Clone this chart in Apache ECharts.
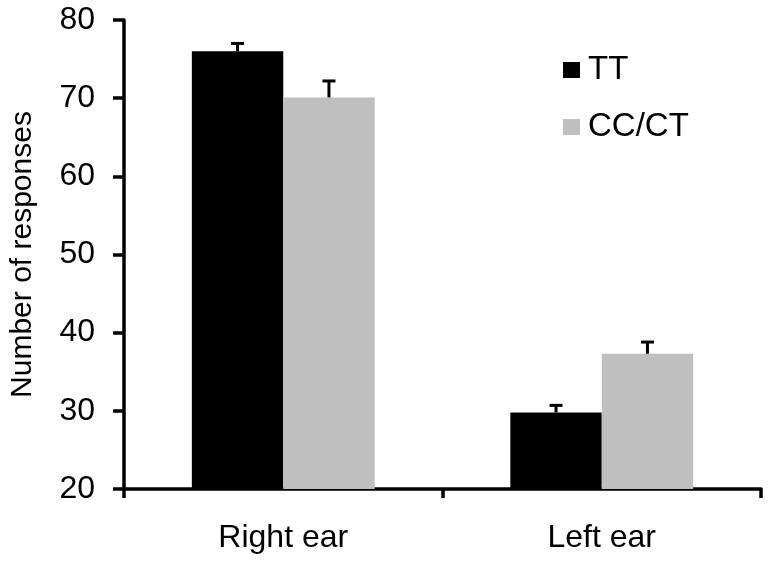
<!DOCTYPE html>
<html><head><meta charset="utf-8">
<script src="https://cdn.jsdelivr.net/npm/echarts@6/dist/echarts.min.js"></script>
<style>html,body{margin:0;padding:0;background:#fff}#c{width:772px;height:562px}</style>
</head><body><div id="c"></div>
<script>
var categories = ['Right ear', 'Left ear'];
var seriesNames = ['TT', 'CC/CT'];
var ttValues = [76.0, 29.8];
var ttErrTop = [77.0, 30.7];
var ccValues = [70.1, 37.3];
var ccErrTop = [72.2, 38.8];
var yTicks = [20, 30, 40, 50, 60, 70, 80];

var FONT = 'Liberation Sans, Arial, sans-serif';
var BAR_FRAC = 0.287;

function errSeries(name, values, tops, sign) {
  return {
    type: 'custom', name: name + ' err', silent: true, z: 5,
    data: categories.map(function (c, i) { return [i, values[i], tops[i]]; }),
    renderItem: function (params, api) {
      var band = api.size([1, 0])[0];
      var base = api.coord([api.value(0), api.value(1)]);
      var top = api.coord([api.value(0), api.value(2)]);
      var x = base[0] + sign * band * BAR_FRAC / 2;
      var half = 6.5;
      return {
        type: 'group',
        children: [
          { type: 'line', shape: { x1: x, y1: base[1], x2: x, y2: top[1] }, style: { stroke: '#000', lineWidth: 3 } },
          { type: 'line', shape: { x1: x - half, y1: top[1], x2: x + half, y2: top[1] }, style: { stroke: '#000', lineWidth: 3 } }
        ]
      };
    }
  };
}

var chart = echarts.init(document.getElementById('c'));
chart.setOption({
  animation: false,
  backgroundColor: '#fff',
  grid: { left: 124, top: 20, right: 11, bottom: 73, containLabel: false, outerBoundsMode: 'none' },
  legend: {
    data: seriesNames, orient: 'vertical', left: 563, top: 52, padding: 0,
    itemWidth: 17, itemHeight: 16, itemGap: 21,
    textStyle: { fontFamily: FONT, fontSize: 33, lineHeight: 36, color: '#000', padding: [0, 0, 0, 3] },
    icon: 'rect'
  },
  xAxis: {
    type: 'category', data: categories,
    axisLine: { lineStyle: { color: '#000', width: 3.5 } },
    axisTick: { show: true, alignWithLabel: false, length: 9, lineStyle: { color: '#000', width: 3.5 } },
    axisLabel: { fontFamily: FONT, fontSize: 32, color: '#000', margin: 33 }
  },
  yAxis: {
    type: 'value', min: 20, max: 80, interval: 10,
    name: 'Number of responses', nameLocation: 'middle', nameGap: 86, nameRotate: 90,
    nameTextStyle: { fontFamily: FONT, fontSize: 30, color: '#000' },
    axisLine: { show: true, lineStyle: { color: '#000', width: 3.5 } },
    axisTick: { show: true, length: 11, lineStyle: { color: '#000', width: 3.5 } },
    axisLabel: { fontFamily: FONT, fontSize: 32, color: '#000', margin: 29,
      formatter: function (v) { return yTicks.indexOf(v) >= 0 ? String(v) : ''; } },
    splitLine: { show: false }
  },
  series: [
    { name: 'TT', type: 'bar', data: ttValues, barWidth: (BAR_FRAC * 100) + '%', barGap: '0%', itemStyle: { color: '#000' } },
    { name: 'CC/CT', type: 'bar', data: ccValues, barWidth: (BAR_FRAC * 100) + '%', barGap: '0%', itemStyle: { color: '#bfbfbf' } },
    errSeries('TT', ttValues, ttErrTop, -1),
    errSeries('CC/CT', ccValues, ccErrTop, 1)
  ]
});
</script></body></html>
